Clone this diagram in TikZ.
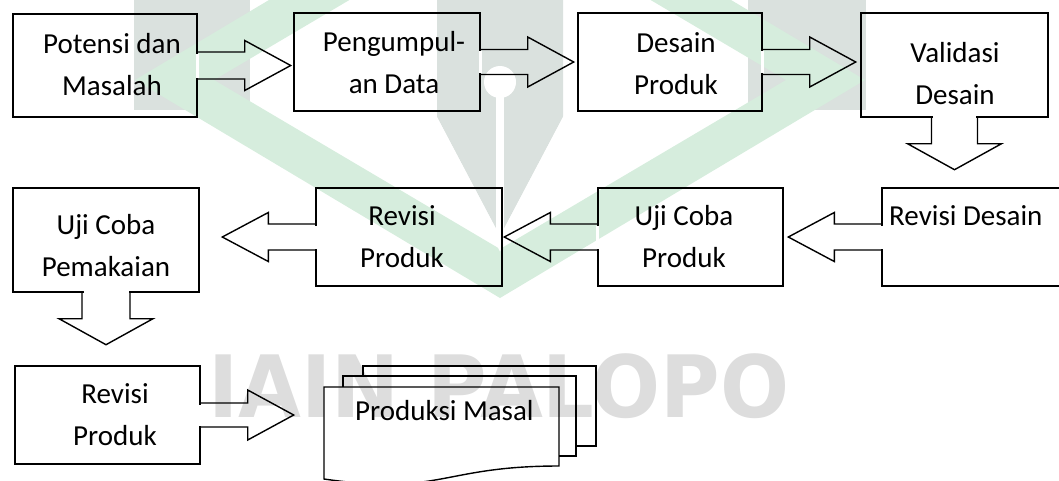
\documentclass[tikz,border=0pt]{standalone}
\usepackage{fontspec}
\setmainfont{Carlito}
\newfontfamily\wmfont{DejaVu Sans}
\usetikzlibrary{calc}
\definecolor{wmgreen}{HTML}{D6EDDD}
\definecolor{wmgray}{HTML}{DAE1DE}
\definecolor{wmtext}{HTML}{DDDDDD}
\newcommand\twoline[2]{\vtop{\baselineskip=42pt\halign{\hfil##\hfil\cr #1\cr #2\cr}}}
\begin{document}
\begin{tikzpicture}[x=1pt,y=-1pt,
  box/.style={draw=black,line width=1.4pt,minimum width=#1,inner sep=0pt},
  lbl/.style={anchor=base,inner sep=0pt,font=\fontsize{29}{42}\selectfont},
  ln/.style={draw=black,line width=1.4pt,line join=miter},
  cover/.style={draw=white,line width=3pt}]
\useasboundingbox (0,0) rectangle (1059,480);
% ---------- watermark ----------
\begin{scope}
  \fill[wmgray] (134,0) rectangle (250,110);
  \fill[wmgray] (748,0) rectangle (866,110);
  \fill[wmgreen,even odd rule] (135,80) -- (500,298) -- (865,80) -- (500,-138) -- cycle
     (214,80) -- (500,249) -- (786,80) -- (500,-89) -- cycle;
  \fill[wmgray] (437,0) -- (563,0) -- (563,117) -- (500,236) -- (437,117) -- cycle;
  \draw[white,line width=7pt] (433,117) -- (500,244) -- (567,117);
  \fill[white] (500,82) circle (16);
  \fill[white] (496,82) rectangle (504,240);
  \node[anchor=base west,inner sep=0pt,text=wmtext,font=\wmfont\bfseries\fontsize{86}{86}\selectfont,xscale=0.945] (wm) at (208,417) {IAIN PALOPO};
\end{scope}
% ---------- boxes ----------
\node[box=184pt,minimum height=103pt] (b1) at (105,65.5) {};
\node[box=186pt,minimum height=98pt] (b2) at (387,62) {};
\node[box=184pt,minimum height=98pt] (b3) at (670,62) {};
\node[box=187pt,minimum height=104pt] (b4) at (954.5,65) {};
\node[box=186pt,minimum height=98pt] (b5) at (975,237) {};
\node[box=185pt,minimum height=98pt] (b6) at (690.5,237) {};
\node[box=186pt,minimum height=98pt] (b7) at (409,237) {};
\node[box=186pt,minimum height=104pt] (b8) at (106,240) {};
\node[box=185pt,minimum height=98pt] (b9) at (107.5,415) {};
% ---------- labels ----------
\node[lbl] (t1) at (112,53) {\twoline{Potensi dan}{Masalah}};
\node[lbl] (t2) at (394,51) {\twoline{Pengumpul-}{an Data}};
\node[lbl] (t3) at (676,52) {\twoline{Desain}{Produk}};
\node[lbl] (t4) at (955,62) {\twoline{Validasi}{Desain}};
\node[lbl,anchor=base west] (t5) at (889,225) {Revisi Desain};
\node[lbl] (t6) at (684,225) {\twoline{Uji Coba}{Produk}};
\node[lbl] (t7) at (402,225) {\twoline{Revisi}{Produk}};
\node[lbl] (t8) at (106,234) {\twoline{Uji Coba}{Pemakaian}};
\node[lbl] (t9) at (115,403) {\twoline{Revisi}{Produk}};
% ---------- multidocument ----------
\draw[ln] (363,376) -- (363,366) -- (596,366) -- (596,446) -- (576,446);
\draw[ln] (343,387) -- (343,376) -- (576,376) -- (576,456) -- (559,456);
\draw[ln] (559,466) .. controls (441.5,466) and (441.5,496) .. (324,479) -- (324,387) -- (559,387) -- cycle;
\node[lbl,anchor=base west] (md) at (355,420) {Produksi Masal};
% ---------- block arrows ----------
\newcommand\rarrow[3]{%
  \draw[cover] ($(#1.east)+(0,-#2+1.5)$) -- ($(#1.east)+(0,#2-1.5)$);
  \draw[ln] ($(#1.east)+(0,-#2)$) -- ++(47,0) -- ($(#1.east)+(47,-25)$) -- ($(#1.east)+(93,0)$) coordinate (#3)
     -- ($(#1.east)+(47,25)$) -- ($(#1.east)+(47,#2)$) -- ($(#1.east)+(0,#2)$);}
\newcommand\larrow[3]{%
  \draw[cover] ($(#1.west)+(0,-#2+1.5)$) -- ($(#1.west)+(0,#2-1.5)$);
  \draw[ln] ($(#1.west)+(0,-#2)$) -- ++(-47,0) -- ($(#1.west)+(-47,-24.5)$) -- ($(#1.west)+(-93,0)$) coordinate (#3)
     -- ($(#1.west)+(-47,24.5)$) -- ($(#1.west)+(-47,#2)$) -- ($(#1.west)+(0,#2)$);}
\newcommand\darrow[3]{%
  \draw[cover] ($(#1.south)+(-#2+1.5,0)$) -- ($(#1.south)+(#2-1.5,0)$);
  \draw[ln] ($(#1.south)+(-#2,0)$) -- ++(0,26) -- ($(#1.south)+(-47,26)$) -- ($(#1.south)+(0,52)$) coordinate (#3)
     -- ($(#1.south)+(47,26)$) -- ($(#1.south)+(#2,26)$) -- ($(#1.south)+(#2,0)$);}
\rarrow{b1}{13.5}{a1}
\rarrow{b2}{12.5}{a2}
\rarrow{b3}{12.5}{a3}
\darrow{b4}{23}{a4}
\larrow{b5}{13}{a5}
\larrow{b6}{13}{a6}
\larrow{b7}{13}{a7}
\darrow{b8}{24}{a8}
\rarrow{b9}{12}{a9}
\end{tikzpicture}
\end{document}
